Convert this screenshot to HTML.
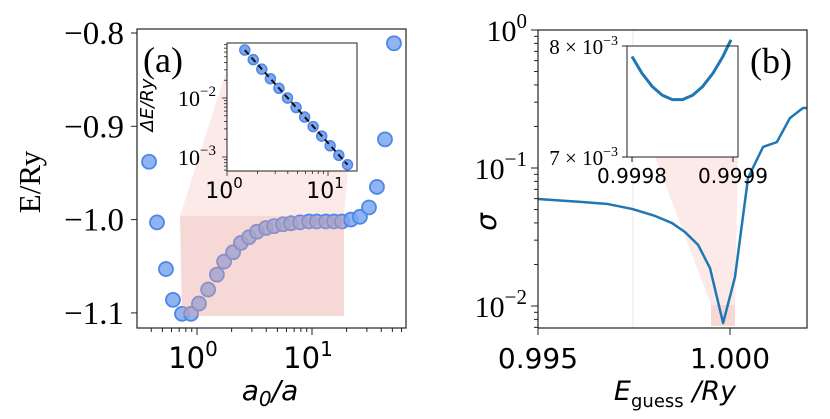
<!DOCTYPE html>
<html><head><meta charset="utf-8"><style>
body{margin:0;background:#fff;}
svg{display:block;}
.serif{font-family:"Liberation Serif","DejaVu Serif",serif;}
.sans{font-family:"DejaVu Sans","Liberation Sans",sans-serif;}
</style></head><body>
<svg id="fig" width="830" height="419" viewBox="0 0 830 419" xmlns="http://www.w3.org/2000/svg">
<g id="pa"></g>
<g id="pb"></g>
</svg>
<script>
// Panel (a) main data
const aVals=[0.383,0.449,0.537,0.618,0.741,0.887,1.04,1.25,1.49,1.72,2.06,2.41,2.83,3.32,3.98,4.67,5.6,6.57,7.87,9.42,11.0,13.2,15.5,18.2,21.8,26.1,31.3,36.7,43.1,51.6];
const eVals=[-0.938,-1.003,-1.053,-1.086,-1.101,-1.101,-1.090,-1.075,-1.059,-1.045,-1.035,-1.025,-1.019,-1.013,-1.009,-1.007,-1.005,-1.004,-1.003,-1.002,-1.002,-1.002,-1.002,-1.002,-1.000,-0.997,-0.987,-0.965,-0.914,-0.811];
const aYTicks=[-0.8,-0.9,-1.0,-1.1];
const aYTickLabels=["\u22120.8","\u22120.9","\u22121.0","\u22121.1"];
// Panel (a) inset data
const insetA=[1.5,1.82,2.21,2.69,3.27,3.97,4.83,5.87,7.13,8.66,10.5,12.8,15.6];
const insetDE=[0.065,0.0447,0.0308,0.0212,0.0146,0.0100,0.0069,0.00476,0.00328,0.00226,0.00155,0.00107,0.00074];
// Panel (b) data
const eGuess=[0.995,0.99615,0.99682,0.99745,0.99805,0.99849,0.99883,0.99917,0.99948,0.99982,1.00013,1.00047,1.00086,1.00122,1.00156,1.0019,1.002];
const sigmaVals=[0.0596,0.0567,0.0548,0.0505,0.0449,0.0399,0.0343,0.0277,0.0188,0.00753,0.0162,0.0847,0.142,0.154,0.230,0.272,0.272];
const bXTicks=[0.995,1.000];
const bXTickLabels=["0.995","1.000"];
// Panel (b) inset data
const insetE=[0.99980,0.99981,0.99982,0.99983,0.99984,0.99985,0.99986,0.99987,0.99988,0.99989,0.999898];
const insetSigma=[0.00790,0.00774,0.00762,0.00754,0.00750,0.00750,0.00754,0.00762,0.00774,0.00790,0.00806];

const NS="http://www.w3.org/2000/svg";
function mk(parent,tag,attrs,text){const e=document.createElementNS(NS,tag);for(const k in attrs)e.setAttribute(k,attrs[k]);if(text!==undefined)e.textContent=text;parent.appendChild(e);return e;}
const L=Math.log10;
const pa=document.getElementById('pa'), pb=document.getElementById('pb');

// ---- Panel a scales
const ax=v=>197+115*L(v);
const ay=v=>33+(-0.8-v)*933;
const ix=v=>227+101*L(v);
const iy=v=>98-59*(L(v)+2);

let p=mk(pa,'polygon',{points:"180,216 229,62 357,62 344,216",fill:"#f2b8b0","fill-opacity":"0.3"});

aVals.forEach((a,i)=>{const c=mk(pa,'circle',{cx:ax(a),cy:ay(eVals[i]),r:7,fill:"#7aa7f0",stroke:"#4f86e8","stroke-width":1.8,"fill-opacity":"0.85"});
});
p=mk(pa,'polygon',{points:"180,216 344,216 344,316 182,316",fill:"#e8a098","fill-opacity":"0.4"});

p=mk(pa,'rect',{x:137,y:29,width:269,height:299,fill:"none",stroke:"#222","stroke-width":1.2});

aYTicks.forEach((t,i)=>{const y=ay(t);mk(pa,'line',{x1:131,x2:137,y1:y,y2:y,stroke:"#222"});
const tx=mk(pa,'text',{x:124,y:y+11,"text-anchor":"end","font-size":33,class:"serif"},aYTickLabels[i]);
});
for(let d=-1;d<=1;d++)for(let m=1;m<10;m++){const v=m*Math.pow(10,d);const x=ax(v);if(x<137||x>406)continue;mk(pa,'line',{x1:x,x2:x,y1:328,y2:m==1?335:332,stroke:"#222"});}
[[1,"0"],[10,"1"]].forEach(([v,e])=>{const t=mk(pa,'text',{x:ax(v)-4,y:368,"text-anchor":"middle","font-size":29,class:"sans"});t.innerHTML='10<tspan dy="-12" font-size="20">'+e+'</tspan>';
});
let t=mk(pa,'text',{x:0,y:0,transform:"translate(40,182) rotate(-90)","text-anchor":"middle","font-size":31,class:"serif"},"E/Ry");

t=mk(pa,'text',{x:270,y:400,"text-anchor":"middle","font-size":28,"font-style":"italic",class:"sans"});t.innerHTML='a<tspan dy="6" font-size="20">0</tspan><tspan dy="-6">/a</tspan>';

t=mk(pa,'text',{x:143,y:72,"font-size":36,class:"serif"},"(a)");

// inset a
p=mk(pa,'rect',{x:227,y:43,width:130,height:128,fill:"#fff",stroke:"#222","stroke-width":1});

for(let d=-4;d<=-1;d++)for(let m=1;m<10;m++){const v=m*Math.pow(10,d);const y=iy(v);if(y<43||y>171)continue;mk(pa,'line',{x1:227,x2:m==1?222:224,y1:y,y2:y,stroke:"#222","stroke-width":0.8});}
for(let d=0;d<=1;d++)for(let m=1;m<10;m++){const v=m*Math.pow(10,d);const x=ix(v);if(x<227||x>357)continue;mk(pa,'line',{x1:x,x2:x,y1:171,y2:m==1?176:174,stroke:"#222","stroke-width":0.8});}
[[0.01,"\u22122"],[0.001,"\u22123"]].forEach(([v,e])=>{const tt=mk(pa,'text',{x:216,y:iy(v)+8,"text-anchor":"end","font-size":22,class:"serif"});tt.innerHTML='10<tspan dy="-10" font-size="15">'+e+'</tspan>';
});
[[1,"0"],[10,"1"]].forEach(([v,e])=>{const tt=mk(pa,'text',{x:ix(v)-3,y:198,"text-anchor":"middle","font-size":22,class:"sans"});tt.innerHTML='10<tspan dy="-10" font-size="15">'+e+'</tspan>';
});
t=mk(pa,'text',{x:0,y:0,transform:"translate(153,105) rotate(-90)","text-anchor":"middle","font-size":18,"font-style":"italic",class:"sans"},"\u0394E/Ry");

insetA.forEach((a,i)=>{const c=mk(pa,'circle',{cx:ix(a),cy:iy(insetDE[i]),r:5,fill:"#7aa7f0",stroke:"#4f86e8","stroke-width":1.5});
});
p=mk(pa,'line',{x1:ix(insetA[0]),y1:iy(insetDE[0]),x2:ix(insetA[insetA.length-1]),y2:iy(insetDE[insetDE.length-1]),stroke:"#111","stroke-width":2,"stroke-dasharray":"6,4"});


// ---- Panel b scales
const bx=v=>538+(v-0.995)*38400;
const by=v=>30-138*L(v);
const jx=v=>632+(v-0.9998)*1010000;
const jy=v=>46+111*(L(0.008)-L(v))/(L(0.008)-L(0.007));
p=mk(pb,'polygon',{points:"655,157 711,305 735,305 738,157",fill:"#f2b8b0","fill-opacity":"0.3"});

p=mk(pb,'rect',{x:711,y:305,width:24,height:21,fill:"#e8a098","fill-opacity":"0.4"});

mk(pb,'line',{x1:633,x2:633,y1:30,y2:328,stroke:"#e4e4e4","stroke-width":0.8});
p=mk(pb,'polyline',{points:eGuess.map((e,i)=>bx(e)+','+by(sigmaVals[i])).join(' '),fill:"none",stroke:"#1f77b4","stroke-width":2.5,"stroke-linejoin":"round"});

p=mk(pb,'rect',{x:538,y:30,width:269,height:298,fill:"none",stroke:"#222","stroke-width":1.2});

for(let d=-3;d<=0;d++)for(let m=1;m<10;m++){const v=m*Math.pow(10,d);const y=by(v);if(y<29||y>329)continue;mk(pb,'line',{x1:538,x2:m==1?531:534,y1:y,y2:y,stroke:"#222"});}
[[1,"0"],[0.1,"\u22121"],[0.01,"\u22122"]].forEach(([v,e])=>{const tt=mk(pb,'text',{x:527,y:by(v)+11,"text-anchor":"end","font-size":30,class:"serif"});tt.innerHTML='10<tspan dy="-13" font-size="21">'+e+'</tspan>';
});
bXTicks.forEach((v,i)=>{const x=bx(v);mk(pb,'line',{x1:x,x2:x,y1:328,y2:335,stroke:"#222"});
const tt=mk(pb,'text',{x:x,y:368,"text-anchor":"middle","font-size":28,class:"sans"},bXTickLabels[i]);
});
t=mk(pb,'text',{x:0,y:0,transform:"translate(496,222) rotate(-90)","text-anchor":"middle","font-size":28,"font-style":"italic",class:"sans"},"\u03c3");

t=mk(pb,'text',{x:675,y:400,"text-anchor":"middle","font-size":27,"font-style":"italic",class:"sans"});t.innerHTML='E<tspan dy="7" font-size="18" font-style="normal">guess</tspan><tspan dy="-7"> /Ry</tspan>';

t=mk(pb,'text',{x:750,y:73,"font-size":36,class:"serif"},"(b)");

// inset b
p=mk(pb,'rect',{x:627,y:46,width:111,height:111,fill:"#fff",stroke:"#222","stroke-width":1});

const sg=mk(pb,'polyline',{points:insetE.map((e,i)=>jx(e)+','+jy(insetSigma[i])).join(' '),fill:"none",stroke:"#1f77b4","stroke-width":3,"stroke-linejoin":"round"});

mk(pb,'rect',{x:627,y:46,width:111,height:111,fill:"none",stroke:"#222","stroke-width":1});
[0.9998,0.9999].forEach(v=>{const x=jx(v);mk(pb,'line',{x1:x,x2:x,y1:157,y2:162,stroke:"#222"});
const tt=mk(pb,'text',{x:x,y:183,"text-anchor":"middle","font-size":20,class:"sans"},v.toFixed(4));
});
[[0.008,"8"],[0.007,"7"]].forEach(([v,m])=>{const y=jy(v);mk(pb,'line',{x1:627,x2:622,y1:y,y2:y,stroke:"#222"});
const tt=mk(pb,'text',{x:618,y:y+8,"text-anchor":"end","font-size":21,class:"serif"});tt.innerHTML=m+' \u00d7 10<tspan dy="-9" font-size="14">\u22123</tspan>';
});
</script>
</body></html>
